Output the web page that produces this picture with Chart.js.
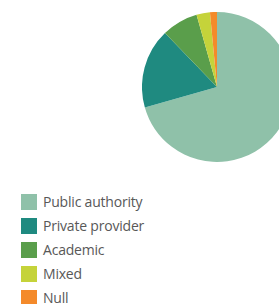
<!DOCTYPE html>
<html>
<head>
<meta charset="utf-8">
<script src="https://cdn.jsdelivr.net/npm/chart.js@4.4.1/dist/chart.umd.min.js"></script>
<style>
  html, body { margin: 0; padding: 0; background: #fff; overflow: hidden; width: 279px; height: 304px; }
  #wrap { position: absolute; left: 142px; top: 12px; width: 150px; height: 150px; }
  #legend { position: absolute; left: 21px; top: 194px; font-family: "Open Sans", sans-serif; font-size: 14px; color: #585858; }
  .row { height: 24px; display: flex; align-items: flex-start; }
  .box { width: 16px; height: 16px; margin-right: 6px; }
  .lbl { line-height: 16px; white-space: nowrap; letter-spacing: -0.2px; }
</style>
</head>
<body>
<div id="wrap"><canvas id="pie" width="150" height="150"></canvas></div>
<div id="legend"></div>
<script>
/* data */
var labels = ['Public authority', 'Private provider', 'Academic', 'Mixed', 'Null']
var shares = [70.6, 17.2, 7.8, 2.9, 1.5]
var colors = ['#8fc1a9', '#1f8a80', '#5a9e4b', '#c5d33a', '#f48a2a']

const ctx = document.getElementById('pie')
const chart = new Chart(ctx, {
    type: 'pie',
    data: {
        labels: labels,
        datasets: [{
            data: shares,
            backgroundColor: colors,
            borderWidth: 0
        }]
    },
    options: {
        responsive: false,
        animation: false,
        layout: { padding: 0 },
        plugins: {
            legend: { display: false },
            tooltip: { enabled: false }
        }
    }
})

// html legend from the chart's own label items
var legend = document.getElementById('legend')
var items = chart.options.plugins.legend.labels.generateLabels(chart)
items.forEach(function (item) {
    var row = document.createElement('div')
    row.className = 'row'
    var box = document.createElement('div')
    box.className = 'box'
    box.style.background = item.fillStyle
    var lbl = document.createElement('div')
    lbl.className = 'lbl'
    lbl.textContent = item.text
    row.appendChild(box)
    row.appendChild(lbl)
    legend.appendChild(row)
})
</script>
</body>
</html>
